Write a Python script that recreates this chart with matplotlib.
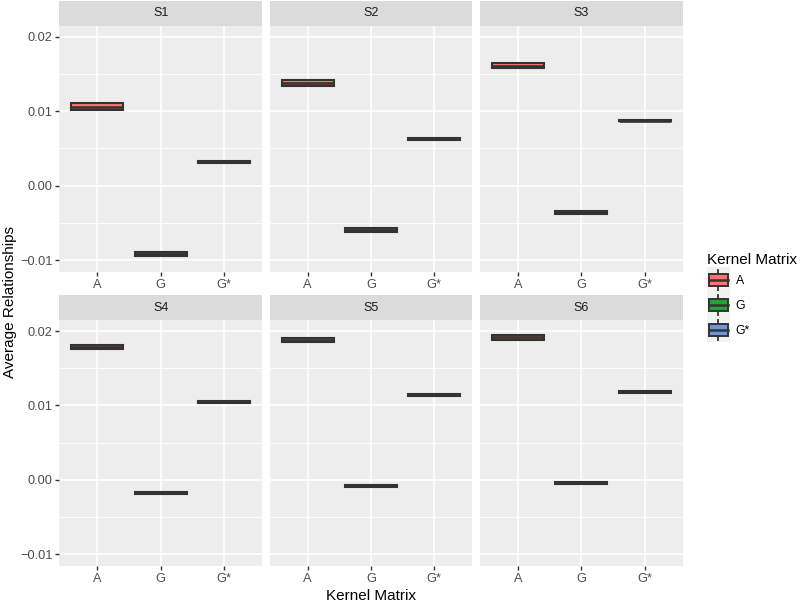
import matplotlib
matplotlib.use("Agg")
import matplotlib.pyplot as plt
from matplotlib.patches import Patch, Rectangle
from matplotlib.lines import Line2D
from matplotlib.legend_handler import HandlerBase

plt.rcParams["font.family"] = ["Liberation Sans", "DejaVu Sans"]

# valori (mediana e quartili per scenario e matrice)
scenari = ["S1", "S2", "S3", "S4", "S5", "S6"]
matrici = ["A", "G", "G*"]
tick_labels = ["A", "G", "G*"]
mediane = [
    [0.01062, -0.00918, 0.00316],
    [0.01378, -0.00600, 0.00629],
    [0.01610, -0.00359, 0.00871],
    [0.01781, -0.00181, 0.01047],
    [0.01882, -0.00080, 0.01145],
    [0.01913, -0.00044, 0.01183],
]
q1 = [
    [0.01018, -0.00945, 0.00301],
    [0.01338, -0.00629, 0.00614],
    [0.01574, -0.00376, 0.00861],
    [0.01752, -0.00194, 0.01034],
    [0.01856, -0.00090, 0.01130],
    [0.01886, -0.00055, 0.01168],
]
q3 = [
    [0.01106, -0.00891, 0.00331],
    [0.01418, -0.00571, 0.00644],
    [0.01646, -0.00342, 0.00881],
    [0.01810, -0.00168, 0.01060],
    [0.01908, -0.00070, 0.01160],
    [0.01940, -0.00033, 0.01198],
]
colori = ["#F8766D", "#22A537", "#7095D6"]
y_ticks = [-0.01, 0.0, 0.01, 0.02]
y_tick_labels = ["\u22120.01", "0.00", "0.01", "0.02"]

W, H = 800, 603


def px_rect(x, y, w, h):
    return [x / W, 1 - (y + h) / H, w / W, h / H]


class BoxKeyHandler(HandlerBase):
    # chiave di legenda stile ggplot: piccolo boxplot su fondo grigio
    def create_artists(self, legend, orig_handle, xdescent, ydescent,
                       width, height, fontsize, trans):
        x0, y0 = -xdescent, -ydescent
        fc = orig_handle.get_facecolor()
        bg = Rectangle((x0, y0), width, height, fc="#F2F2F2", ec="none", transform=trans)
        xc = x0 + width / 2
        w1 = Line2D([xc, xc], [y0 + 0.1 * height, y0 + 0.25 * height], color="#333333", lw=1.3, transform=trans)
        w2 = Line2D([xc, xc], [y0 + 0.75 * height, y0 + 0.9 * height], color="#333333", lw=1.3, transform=trans)
        box = Rectangle((x0 + 0.1 * width, y0 + 0.25 * height), 0.8 * width, 0.5 * height,
                        fc=fc, ec="#333333", lw=1.4, transform=trans)
        med = Line2D([x0 + 0.1 * width, x0 + 0.9 * width], [y0 + 0.5 * height] * 2,
                     color="#333333", lw=1.8, transform=trans)
        return [bg, w1, w2, box, med]


fig = plt.figure(figsize=(8, 6.03), dpi=100)

col_left = [59.3, 269.6, 480.0]
row_top = [25.7, 320.0]
panel_w, panel_h, strip_h = 202.6, 246.0, 24.6

for i, nome in enumerate(scenari):
    r, c = divmod(i, 3)
    ax = fig.add_axes(px_rect(col_left[c], row_top[r], panel_w, panel_h))
    ax.set_facecolor("#EDEDED")
    for s in ax.spines.values():
        s.set_visible(False)

    stats = []
    for j in range(3):
        stats.append({"med": mediane[i][j], "q1": q1[i][j], "q3": q3[i][j],
                      "whislo": q1[i][j], "whishi": q3[i][j], "fliers": []})
    bp = ax.bxp(stats, positions=[1, 2, 3], widths=0.82, patch_artist=True,
                showfliers=False, showcaps=False,
                boxprops=dict(edgecolor="#333333", linewidth=1.5),
                medianprops=dict(color="#333333", linewidth=1.9, solid_capstyle="butt"),
                whiskerprops=dict(color="#333333", linewidth=1.0))
    for patch, col in zip(bp["boxes"], colori):
        patch.set_facecolor(col)

    ax.set_xlim(0.4, 3.6)
    ax.set_ylim(-0.01157, 0.02148)
    ax.set_xticks([1, 2, 3])
    ax.set_xticklabels(tick_labels)
    ax.set_yticks(y_ticks)
    ax.set_yticks([-0.005, 0.005, 0.015], minor=True)
    ax.grid(which="major", color="white", linewidth=1.2)
    ax.grid(which="minor", axis="y", color="white", linewidth=0.6)
    ax.set_axisbelow(True)
    ax.tick_params(which="minor", length=0)
    ax.tick_params(which="major", length=2.75, width=1.0, color="#333333",
                   labelcolor="#4D4D4D", labelsize=9.2, pad=2.2)
    if c == 0:
        ax.set_yticklabels(y_tick_labels)
    else:
        ax.tick_params(axis="y", left=False, labelleft=False)

    sax = fig.add_axes(px_rect(col_left[c], row_top[r] - strip_h, panel_w, strip_h))
    sax.set_facecolor("#DCDBDC")
    sax.set_xticks([])
    sax.set_yticks([])
    for s in sax.spines.values():
        s.set_visible(False)
    sax.text(0.5, 0.5, nome, ha="center", va="center", fontsize=9, color="#1A1A1A",
             transform=sax.transAxes)

fig.text(371 / W, 1 - 596 / H, "Kernel Matrix", ha="center", va="center", fontsize=11)
fig.text(10 / W, 1 - 302 / H, "Average Relationships", ha="center", va="center",
         rotation=90, fontsize=11)

handles = [Patch(facecolor=col) for col in colori]
fig.legend(handles, matrici, handler_map={Patch: BoxKeyHandler()},
           loc="center left", bbox_to_anchor=(707 / W, 0.506), frameon=False,
           title="Kernel Matrix", title_fontsize=11, fontsize=8.8,
           handlelength=1.88, handleheight=2.77, labelspacing=0.0,
           handletextpad=0.45, borderpad=0, borderaxespad=0, alignment="left")

fig.savefig("out.png", dpi=100)
